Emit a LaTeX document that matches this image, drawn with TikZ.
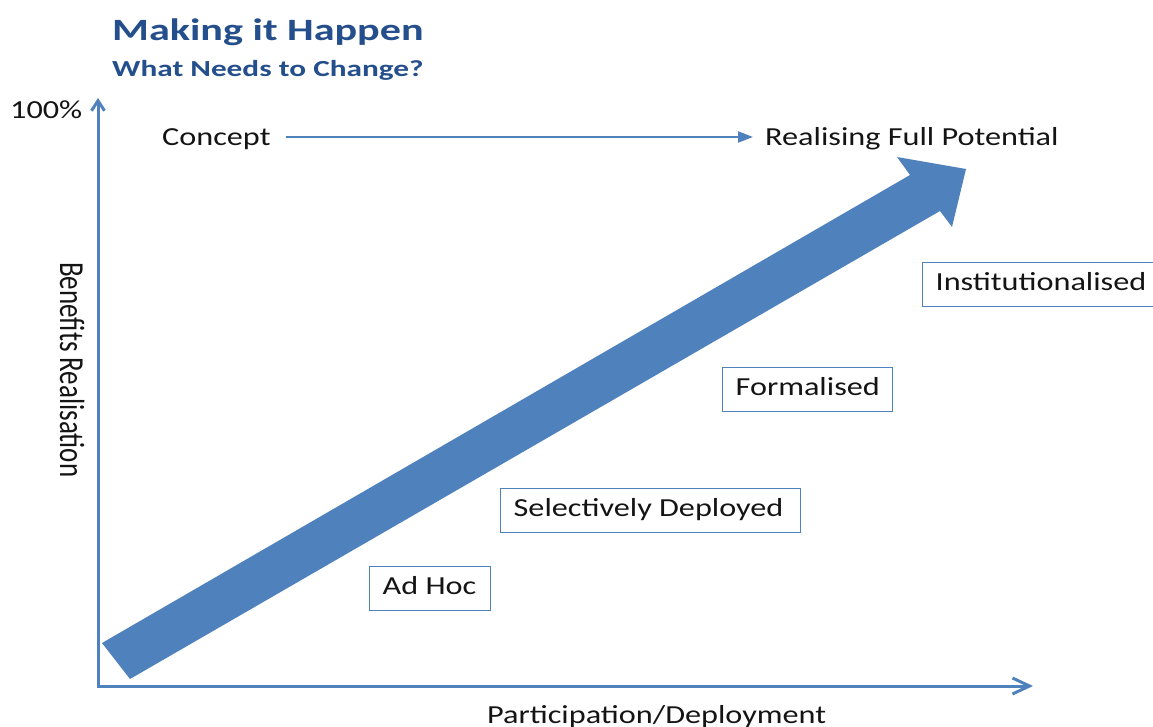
\documentclass[tikz,border=0pt]{standalone}
\usepackage{fontspec}
\setmainfont{Carlito}[FakeStretch=1.24]
\newfontfamily\headfont{Carlito}[FakeStretch=1.36]
\newfontfamily\uprightfont{Carlito}
\usetikzlibrary{arrows.meta,calc}
\definecolor{chartblue}{RGB}{79,129,189}
\definecolor{headblue}{RGB}{36,79,140}
\definecolor{inkgrey}{RGB}{20,20,20}
% fixed-width, left-aligned box contents that never wrap
\newcommand{\stagetext}[2]{\makebox[#1][l]{#2}}

\begin{document}
\begin{tikzpicture}[x=1pt,y=-1pt,
  lbl/.style={inner sep=0pt, anchor=base west, text=inkgrey,
    font=\fontsize{26}{30}\selectfont},
  stage/.style={draw=chartblue, line width=1.3pt, inner xsep=13pt, inner ysep=0pt,
    text height=28pt, text depth=16pt, anchor=north west,
    text=inkgrey, font=\fontsize{26}{30}\selectfont},
  axisline/.style={draw=chartblue, line width=3pt},
  flowline/.style={draw=chartblue, line width=2.2pt}]

\useasboundingbox (0,0) rectangle (1153,727);

% headings
\node[inner sep=0pt, anchor=base west, text=headblue,
  font=\headfont\bfseries\fontsize{31}{34}\selectfont] (title) at (112,41) {Making it Happen};
\node[inner sep=0pt, anchor=base west, text=headblue,
  font=\headfont\bfseries\fontsize{23}{26}\selectfont] (subtitle) at (112,77) {What Needs to Change?};

% axes
\coordinate (origin) at (98,686);
\coordinate (ytop) at (98,98);
\coordinate (xend) at (1033,686);
\draw[axisline, line join=miter,
  {Straight Barb[length=10pt,width=13pt]}-{Straight Barb[length=17pt,width=16pt]}]
  (ytop) -- (origin) -- (xend);

\node[lbl] (hundred) at (10,119) {100\%};
\node[inner sep=0pt, anchor=base west, rotate=-90, text=inkgrey,
  font=\uprightfont\fontsize{27}{30}\selectfont] (yaxis) at (60,262)
  {\scalebox{1}[1.3]{Benefits Realisation}};
\node[lbl] (xaxis) at (487,723) {Participation/Deployment};

% concept to full potential
\node[lbl] (concept) at (162,146) {Concept};
\node[lbl] (realising) at (765,146) {Realising Full Potential};
\draw[flowline, -{Triangle[length=15pt,width=11pt]}]
  ([xshift=15pt,yshift=9pt]concept.base east) -- ([xshift=-12pt,yshift=9pt]realising.base west);

% broad progress arrow
\fill[chartblue] (102,643) -- (910,175) -- (897,157) -- (966,169)
  -- (952,227) -- (940,211) -- (130,679) -- cycle;

% maturity stages
\node[stage] (adhoc) at (369,566) {\stagetext{95pt}{Ad Hoc}};
\node[stage] (selective) at (500,488) {\stagetext{274pt}{Selectively Deployed}};
\node[stage] (formal) at (722,367) {\stagetext{144pt}{Formalised}};
\node[stage] (institution) at (922,262) {\stagetext{212pt}{Institutionalised}};

\end{tikzpicture}
\end{document}
